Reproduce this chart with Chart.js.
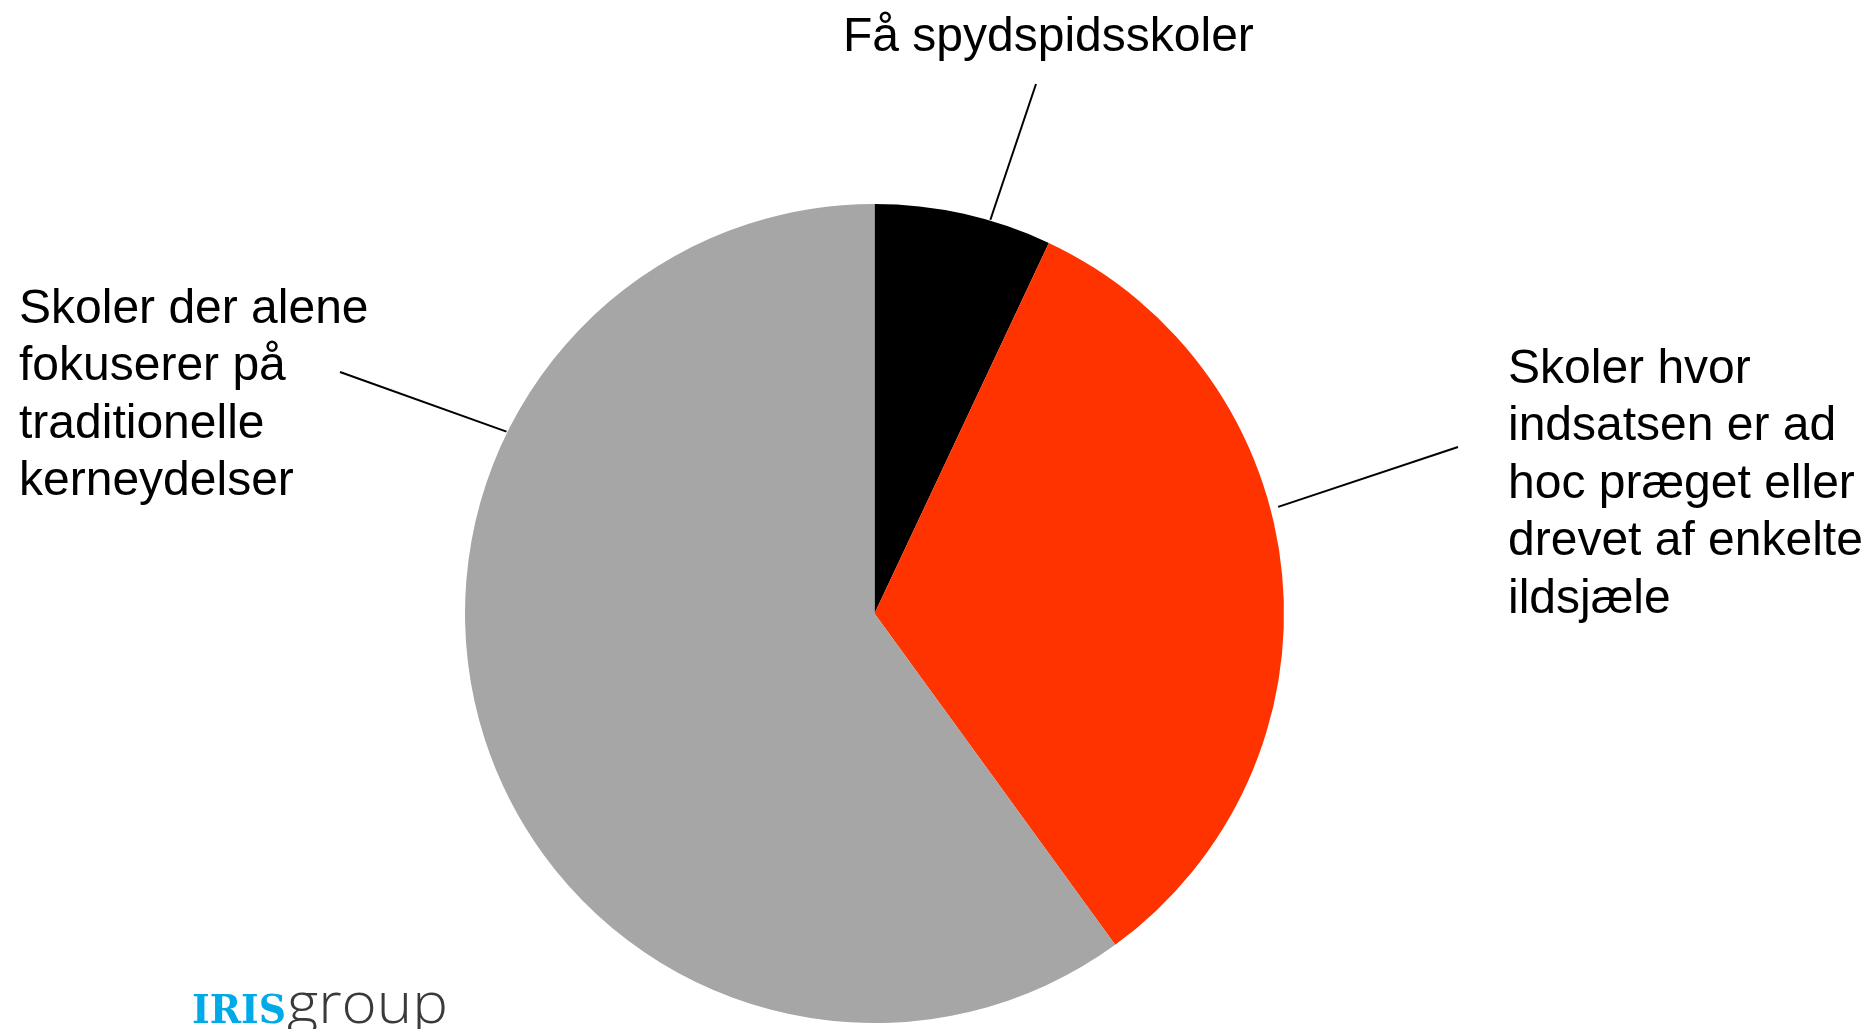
<!DOCTYPE html>
<html>
<head>
<meta charset="utf-8">
<script src="https://cdn.jsdelivr.net/npm/chart.js@4"></script>
<style>
  html, body { margin: 0; padding: 0; background: #fff; }
  #wrap { width: 1872px; height: 1029px; position: relative; }
</style>
</head>
<body>
<div id="wrap"><canvas id="pie"></canvas></div>
<script>
// Data
const categories = [
  'Få spydspidsskoler',
  'Skoler hvor indsatsen er ad hoc præget eller drevet af enkelte ildsjæle',
  'Skoler der alene fokuserer på traditionelle kerneydelser'
];
const shares = [7, 33, 60];

// Styles
const sliceColors = ['#000000', '#FF3300', '#A6A6A6'];
const labelFont = '48px "Liberation Sans", Arial, sans-serif';
const lineHeight = 57.4;

// Wrapped label text, leader start angle (deg from top, clockwise) and text anchor
const calloutLines = [
  ['Få spydspidsskoler'],
  ['Skoler hvor', 'indsatsen er ad', 'hoc præget eller', 'drevet af enkelte', 'ildsjæle'],
  ['Skoler der alene', 'fokuserer på', 'traditionelle', 'kerneydelser']
];
const callouts = [
  { angle: 16.4, gap: 1, end: [1036, 84], text: [843, 51] },
  { angle: 75.2, gap: 8, end: [1458, 447], text: [1508, 383] },
  { angle: 296.3, gap: 1, end: [340, 372], text: [19, 323] }
];

// Draw leader lines and labels around the pie
const calloutPlugin = {
  id: 'callouts',
  afterDraw(chart) {
    const arc = chart.getDatasetMeta(0).data[0];
    const cx = arc.x, cy = arc.y, R = arc.outerRadius;
    const ctx = chart.ctx;
    ctx.save();
    ctx.strokeStyle = '#000';
    ctx.lineWidth = 2;
    ctx.fillStyle = '#000';
    ctx.font = labelFont;
    ctx.textAlign = 'left';
    ctx.textBaseline = 'alphabetic';
    callouts.forEach((c, i) => {
      const a = c.angle * Math.PI / 180;
      const r = R + c.gap;
      ctx.beginPath();
      ctx.moveTo(cx + r * Math.sin(a), cy - r * Math.cos(a));
      ctx.lineTo(c.end[0], c.end[1]);
      ctx.stroke();
      calloutLines[i].forEach((line, j) => {
        ctx.fillText(line, c.text[0], c.text[1] + j * lineHeight);
      });
    });

    // IRISgroup logo
    ctx.font = 'bold 40px "DejaVu Serif", serif';
    let w = ctx.measureText('IRIS').width;
    ctx.save();
    ctx.translate(192, 1023);
    ctx.scale(94 / w, 1);
    ctx.fillStyle = '#00AAE8';
    ctx.fillText('IRIS', 0, 0);
    ctx.restore();
    ctx.font = '300 57px "Open Sans", "DejaVu Sans", sans-serif';
    w = ctx.measureText('group').width;
    ctx.save();
    ctx.translate(287, 1023);
    ctx.scale(161 / w, 1);
    ctx.fillStyle = '#3A3A3A';
    ctx.fillText('group', 0, 0);
    ctx.restore();
    ctx.restore();
  }
};

new Chart(document.getElementById('pie'), {
  type: 'pie',
  data: {
    labels: categories,
    datasets: [{
      data: shares,
      backgroundColor: sliceColors,
      borderWidth: 0,
      hoverOffset: 0,
      offset: 0
    }]
  },
  options: {
    responsive: true,
    maintainAspectRatio: false,
    animation: false,
    layout: {
      padding: { top: 204, bottom: 6, left: 465, right: 588 }
    },
    plugins: {
      legend: { display: false },
      tooltip: { enabled: false }
    }
  },
  plugins: [calloutPlugin]
});
</script>
</body>
</html>
